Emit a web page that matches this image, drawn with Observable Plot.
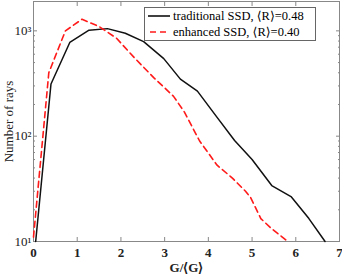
<!DOCTYPE html>
<html><head><meta charset="utf-8">
<script src="https://cdn.jsdelivr.net/npm/d3@7"></script>
<script src="https://cdn.jsdelivr.net/npm/@observablehq/plot@0.6"></script>
<style>
body{margin:0;background:#fff;}
#wrap{position:relative;width:342px;height:275px;font-family:"Liberation Serif","DejaVu Serif",serif;}
#legend{position:absolute;left:144px;top:7px;width:170px;height:32px;border:1px solid #666;background:#fff;font-size:12.5px;color:#000;}
#legend div{height:16px;line-height:16px;display:flex;align-items:center;white-space:nowrap;}
#legend svg{margin-left:3px;margin-right:3px;}
</style></head>
<body><div id="wrap"><div id="chart"></div>
<div id="legend">
<div><svg width="22" height="6"><line x1="0" x2="22" y1="3" y2="3" stroke="#000" stroke-width="1.5"/></svg>traditional SSD, ⟨R⟩=0.48</div>
<div><svg width="22" height="6"><line x1="0" x2="22" y1="3" y2="3" stroke="#ff1a1a" stroke-width="1.5" stroke-dasharray="6,4" stroke-dashoffset="-2"/></svg>enhanced SSD, ⟨R⟩=0.40</div>
</div></div>
<script>
const tradX = [0.05,0.4,0.83,1.27,1.69,2.1,2.52,2.98,3.36,3.75,4.2,4.6,5.0,5.45,5.9,6.3,6.67];
const tradY = [10,313,776,1015,1050,950,790,545,348,268,151,91,60,34,26.5,16.5,10];
const enhX = [0.0,0.35,0.73,1.11,1.5,1.9,2.3,2.75,3.2,3.45,3.8,4.2,4.55,4.85,4.97,5.2,5.45,5.82];
const enhY = [11,400,1000,1290,1100,850,560,360,240,170,90,53,40,30,26,16.5,13.2,10];
const xTicks = [0,1,2,3,4,5,6,7];
const yMajor = [10,100,1000];
const yMinor = [20,30,40,50,60,70,80,90,200,300,400,500,600,700,800,900];
const sup = {1:"¹",2:"²",3:"³"};

const trad = tradX.map((x,i)=>({x, y: tradY[i]}));
const enh = enhX.map((x,i)=>({x, y: enhY[i]}));

const chart = Plot.plot({
  width: 342, height: 275,
  marginLeft: 33, marginRight: 3, marginTop: 1, marginBottom: 34,
  style: {fontFamily: '"Liberation Serif", serif', fontSize: "13px", color: "#000", background: "#fff"},
  x: {domain: [0,7]},
  y: {type: "log", domain: [10, 1900]},
  marks: [
    Plot.frame({stroke: "#888"}),
    Plot.axisX({anchor: "bottom", ticks: xTicks, tickSize: -4, tickPadding: 10, stroke: "#888", fontWeight: "bold", fill: "#222", label: "G/⟨G⟩", labelAnchor: "center", labelArrow: "none", labelOffset: 30, tickFormat: d => String(d)}),
    Plot.axisX({anchor: "top", ticks: xTicks, tickSize: -4, stroke: "#888", text: null, label: null}),
    Plot.axisY({anchor: "left", ticks: yMajor, tickSize: -4, tickPadding: 6, stroke: "#888", fill: "#222", tickFormat: d => "10" + sup[Math.round(Math.log10(d))], label: "Number of rays", labelAnchor: "center", labelArrow: "none", labelOffset: 30}),
    Plot.axisY({anchor: "left", ticks: yMinor, tickSize: -2, stroke: "#888", text: null, label: null}),
    Plot.axisY({anchor: "right", ticks: yMajor, tickSize: -4, stroke: "#888", text: null, label: null}),
    Plot.axisY({anchor: "right", ticks: yMinor, tickSize: -2, stroke: "#888", text: null, label: null}),
    Plot.line(trad, {x: "x", y: "y", stroke: "#111", strokeWidth: 1.5}),
    Plot.line(enh, {x: "x", y: "y", stroke: "#ff1a1a", strokeWidth: 1.6, strokeDasharray: "6,4"})
  ]
});
document.getElementById("chart").appendChild(chart);
</script></body></html>
